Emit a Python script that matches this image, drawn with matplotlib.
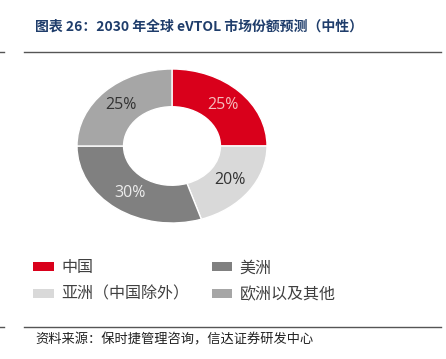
import matplotlib.pyplot as plt
from matplotlib.lines import Line2D

plt.rcParams['font.family'] = ['Noto Sans CJK SC', 'DejaVu Sans']

# 数据
regions = ['中国', '亚洲（中国除外）', '美洲', '欧洲以及其他']
shares = [25, 20, 30, 25]
colors = ['#d9001b', '#d9d9d9', '#808080', '#a6a6a6']
label_colors = ['#f4bcbc', '#333333', '#ececec', '#333333']

title = '图表 26：2030 年全球 eVTOL 市场份额预测（中性）'
source = '资料来源：保时捷管理咨询，信达证券研发中心'

W, H = 446, 359
fig = plt.figure(figsize=(W / 100, H / 100), dpi=100)

def fx(px):
    return px / W

def fy(py):
    return 1 - py / H

# 标题和分隔线
fig.text(fx(35), fy(27), title, fontsize=10, fontweight='bold',
         color='#1f3d6b', va='center', ha='left')
for yy in (52, 327):
    fig.add_artist(Line2D([fx(24), fx(441)], [fy(yy), fy(yy)], color='#555555', lw=1))
    fig.add_artist(Line2D([fx(0), fx(4)], [fy(yy), fy(yy)], color='#555555', lw=1))
fig.text(fx(35), fy(340), source, fontsize=9.5, color='#222222',
         va='center', ha='left')

# 环形图（横向略拉伸）
cx, cy, rx, ry = 172, 146, 95, 77
ax = fig.add_axes([fx(cx - rx), fy(cy + ry), (2 * rx) / W, (2 * ry) / H])
wedges, texts, autotexts = ax.pie(
    shares, colors=colors, startangle=90, counterclock=False,
    autopct='%d%%', pctdistance=0.76, radius=1,
    wedgeprops=dict(width=0.49, edgecolor='white', linewidth=1))
for t, c in zip(autotexts, label_colors):
    t.set_color(c)
    t.set_fontsize(11.5)
    t.set_family(['Open Sans', 'DejaVu Sans'])
ax.set_aspect('auto')
ax.set_xlim(-1, 1)
ax.set_ylim(-1, 1)
ax.axis('off')

# 图例
leg = fig.legend(wedges, regions, ncol=2, loc='upper left',
                 bbox_to_anchor=(fx(19), fy(245)), frameon=False,
                 handlelength=1.3, handleheight=0.45, handletextpad=0.45,
                 columnspacing=1.4, labelspacing=0.6, fontsize=11.5,
                 labelcolor='#404040')
for h in leg.legend_handles:
    h.set_edgecolor('none')

fig.savefig('out.png', dpi=100)
